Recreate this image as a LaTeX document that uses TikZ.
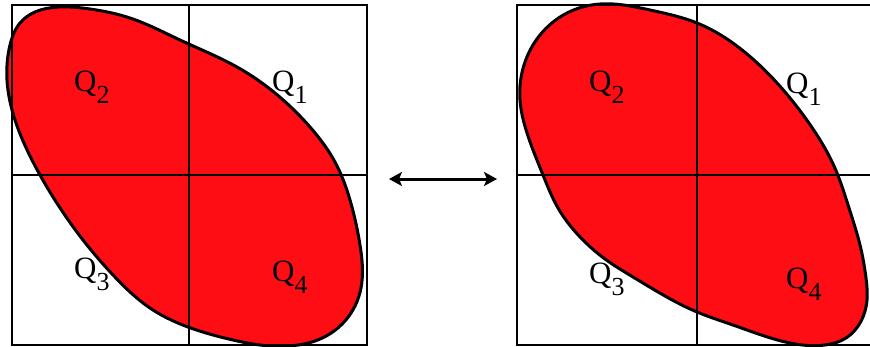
\documentclass[tikz,border=0pt]{standalone}
\usepackage{fontspec}
\setmainfont{Liberation Serif}
\usetikzlibrary{arrows.meta,hobby}
\definecolor{blobred}{RGB}{255,13,20}
\newcommand{\qlab}[1]{Q\raisebox{-12pt}{\fontsize{26pt}{26pt}\selectfont #1}}
\tikzset{
  blob/.style={fill=blobred, draw=black, line width=3pt},
  gridline/.style={draw=black, line width=2pt},
  qtext/.style={font=\fontsize{31pt}{31pt}\selectfont, inner sep=0pt, anchor=base west},
  swap/.style={{Stealth[length=13pt,width=14pt,inset=3pt]}-{Stealth[length=13pt,width=14pt,inset=3pt]}, line width=3pt}
}
\begin{document}
\begin{tikzpicture}[x=1pt,y=-1pt]
\useasboundingbox (0,0) rectangle (870,346);
\clip (0,0) rectangle (870,346);
% left blob
\draw[blob, use Hobby shortcut, closed=true]
 (58,7) .. (90,9) .. (130,18) .. (180,40) .. (237,67) .. (275,93) .. (310,127)
 .. (335,162) .. (350,200) .. (360,245) .. (361,288) .. (345,321) .. (315,341)
 .. (288,346) .. (260,345) .. (233,340) .. (188,327) .. (153,310) .. (113,275)
 .. (83,240) .. (53,197) .. (32,160) .. (15,120) .. (7,80) .. (10,45) .. (20,23) .. (35,12);
% right blob
\draw[blob, use Hobby shortcut, closed=true]
 (600,4) .. (650,10) .. (697,23) .. (747,54) .. (790,98) .. (815,132) .. (834,166)
 .. (849,208) .. (860,245) .. (866,278) .. (867,300) .. (860,323) .. (846,338)
 .. (825,345) .. (790,343) .. (733,325) .. (697,312) .. (665,296) .. (633,277)
 .. (605,259) .. (583,240) .. (558,208) .. (543,175) .. (527,133) .. (520,100)
 .. (524,65) .. (540,35) .. (567,13);
% left grid
\draw[gridline] (12,5) rectangle (367,345);
\draw[gridline] (189,5) -- (189,345);
\draw[gridline] (12,175) -- (367,175);
% right grid
\draw[gridline] (517,5) rectangle (880,345);
\draw[gridline] (697,5) -- (697,345);
\draw[gridline] (517,175) -- (880,175);
% labels left
\node[qtext] (lq2) at (74,91) {\qlab{2}};
\node[qtext] (lq1) at (272,91) {\qlab{1}};
\node[qtext] (lq3) at (74,278) {\qlab{3}};
\node[qtext] (lq4) at (272,281) {\qlab{4}};
% labels right
\node[qtext] (rq2) at (589,91) {\qlab{2}};
\node[qtext] (rq1) at (786,93) {\qlab{1}};
\node[qtext] (rq3) at (589,283) {\qlab{3}};
\node[qtext] (rq4) at (786,288) {\qlab{4}};
% arrow
\coordinate (al) at (389,179);
\coordinate (ar) at (497,179);
\draw[swap] (al) -- (ar);
\end{tikzpicture}
\end{document}
